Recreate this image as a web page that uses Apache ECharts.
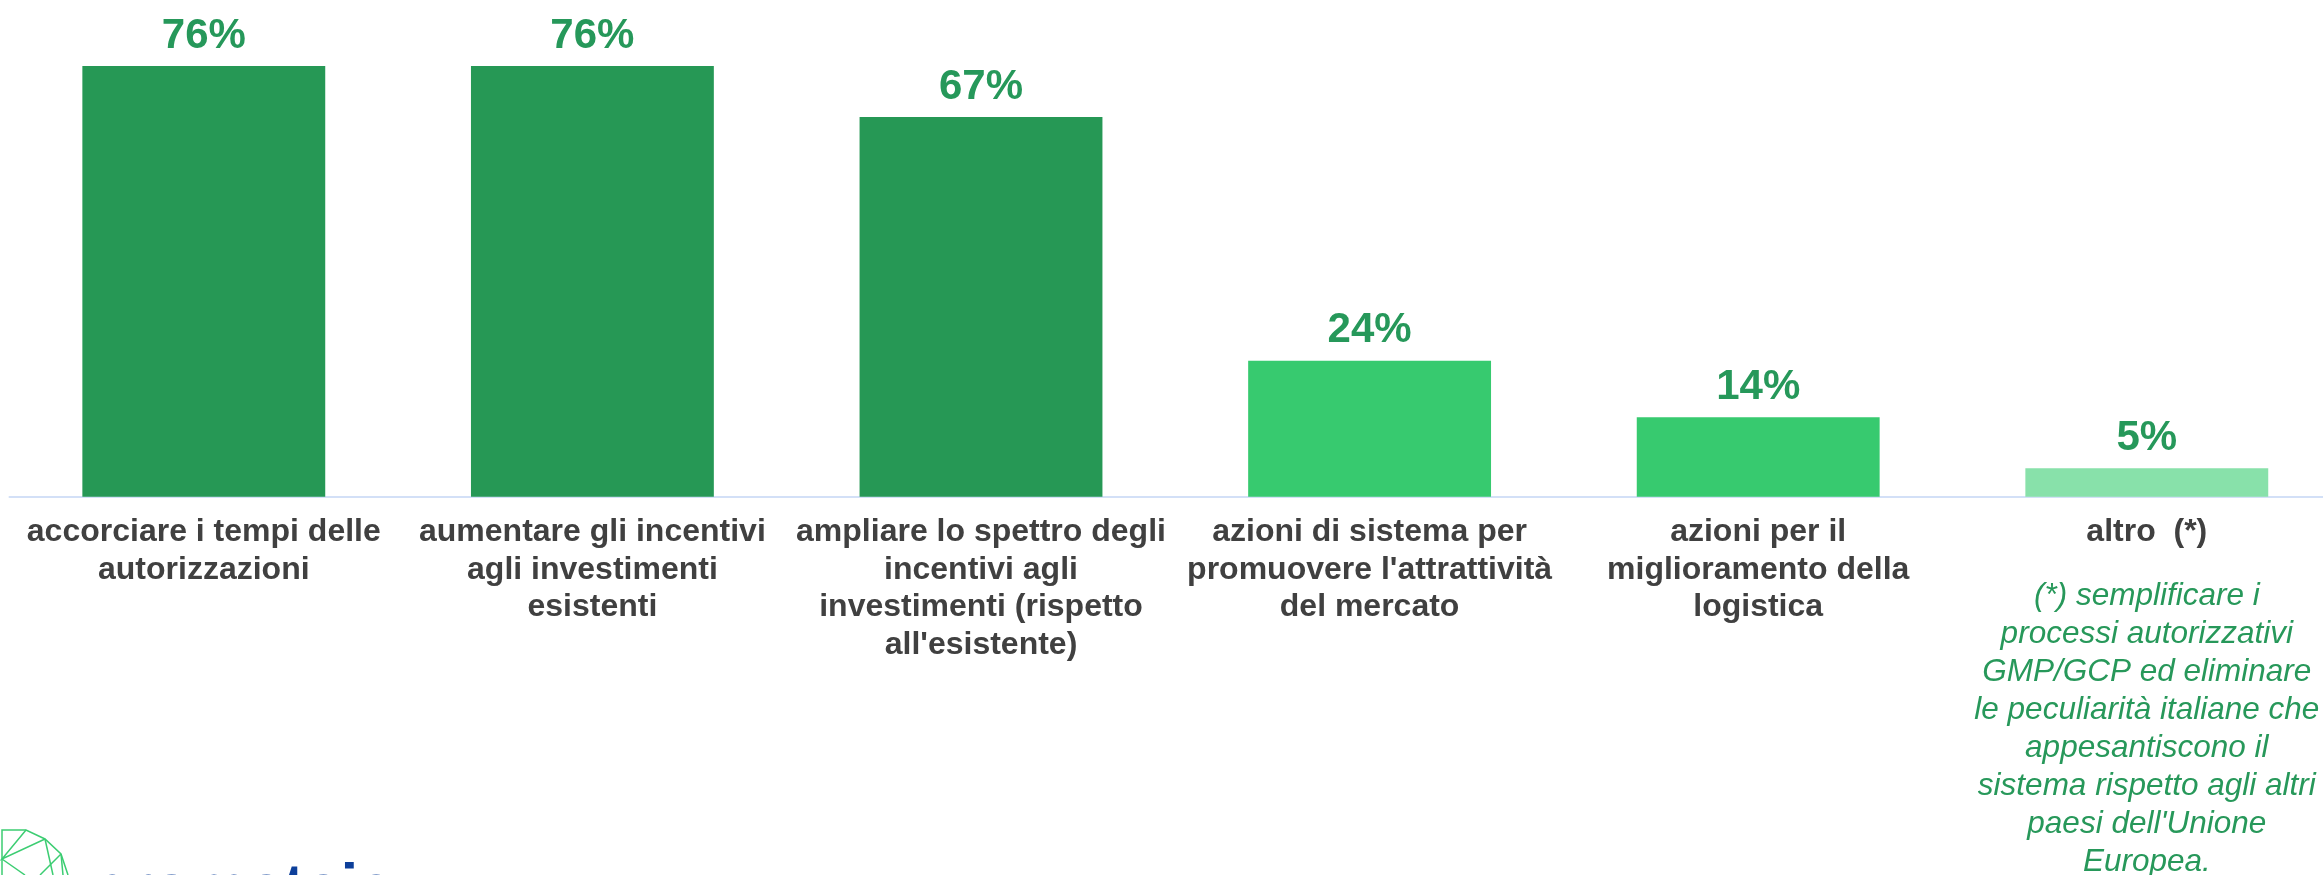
<!DOCTYPE html>
<html>
<head>
<meta charset="utf-8">
<script src="https://cdn.jsdelivr.net/npm/echarts@6/dist/echarts.min.js"></script>
<style>
  html, body { margin: 0; padding: 0; background: #ffffff; }
  #chart { width: 2323px; height: 875px; }
</style>
</head>
<body>
<div id="chart"></div>
<script>
// ---- data ----
const categories = [
  "accorciare i tempi delle\nautorizzazioni",
  "aumentare gli incentivi\nagli investimenti\nesistenti",
  "ampliare lo spettro degli\nincentivi agli\ninvestimenti (rispetto\nall'esistente)",
  "azioni di sistema per\npromuovere l'attrattività\ndel mercato",
  "azioni per il\nmiglioramento della\nlogistica",
  "altro  (*)"
];
const values = [76, 76, 67, 24, 14, 5];
const barColors = ["#269855", "#269855", "#269855", "#37ca6f", "#37ca6f", "#88e1aa"];
const footnoteLines = [
  "(*) semplificare i",
  "processi autorizzativi",
  "GMP/GCP ed eliminare",
  "le peculiarità italiane che",
  "appesantiscono il",
  "sistema rispetto agli altri",
  "paesi dell'Unione",
  "Europea."
];

const chart = echarts.init(document.getElementById('chart'), null, { renderer: 'canvas' });

const FONT = 'Liberation Sans, Arial, sans-serif';
const LOGO_GREEN = '#3ccd72';

const option = {
  backgroundColor: '#ffffff',
  animation: false,
  grid: {
    left: 9.5, width: 2331.6, top: 43.4, height: 453.3,
    containLabel: false,
    outerBoundsMode: 'none'
  },
  xAxis: {
    type: 'category',
    data: categories,
    axisLine: { show: true, lineStyle: { color: '#d3e0f7', width: 2 } },
    axisTick: { show: false },
    axisLabel: {
      interval: 0,
      margin: 17,
      color: '#404040',
      fontFamily: FONT,
      fontWeight: 'bold',
      fontSize: 32,
      lineHeight: 37.5,
      hideOverlap: false,
      formatter: function (val, idx) {
        if (idx === categories.length - 1) {
          let s = '{c|' + val + '}\n{g| }';
          footnoteLines.forEach(function (l) { s += '\n{n|' + l + '}'; });
          return s;
        }
        return val;
      },
      rich: {
        c: { color: '#404040', fontFamily: FONT, fontWeight: 'bold', fontSize: 32, lineHeight: 37.5 },
        g: { fontSize: 10, lineHeight: 26 },
        n: { color: '#27985a', fontFamily: FONT, fontStyle: 'italic', fontWeight: 'normal', fontSize: 31.5, lineHeight: 38 }
      }
    }
  },
  yAxis: {
    type: 'value',
    min: 0,
    max: 80,
    show: false,
    splitLine: { show: false }
  },
  series: [{
    type: 'bar',
    barWidth: '62.5%',
    data: values.map(function (v, i) {
      return { value: v, itemStyle: { color: barColors[i] } };
    }),
    label: {
      show: true,
      position: 'top',
      distance: 9,
      color: '#26985a',
      fontFamily: FONT,
      fontWeight: 'bold',
      fontSize: 42,
      formatter: '{c}%'
    }
  }],
  graphic: [
    { type: 'polyline', shape: { points: [[2, 875], [2, 830], [26, 830], [45, 839], [61, 854], [68, 875]] }, style: { stroke: LOGO_GREEN, lineWidth: 1.5, fill: null } },
    { type: 'polyline', shape: { points: [[26, 830], [2, 859], [45, 839]] }, style: { stroke: LOGO_GREEN, lineWidth: 1.5, fill: null } },
    { type: 'line', shape: { x1: 2, y1: 859, x2: 25, y2: 875 }, style: { stroke: LOGO_GREEN, lineWidth: 1.5 } },
    { type: 'line', shape: { x1: 45, y1: 839, x2: 53, y2: 875 }, style: { stroke: LOGO_GREEN, lineWidth: 1.5 } },
    { type: 'line', shape: { x1: 61, y1: 854, x2: 40, y2: 875 }, style: { stroke: LOGO_GREEN, lineWidth: 1.5 } },
    { type: 'line', shape: { x1: 61, y1: 854, x2: 63, y2: 875 }, style: { stroke: LOGO_GREEN, lineWidth: 1.5 } },
    {
      type: 'text',
      x: 88,
      y: 859,
      style: {
        text: 'prometeia',
        font: 'bold 64px ' + FONT,
        fill: '#0d3f9a',
        verticalAlign: 'top'
      }
    }
  ]
};

chart.setOption(option);
</script>
</body>
</html>
